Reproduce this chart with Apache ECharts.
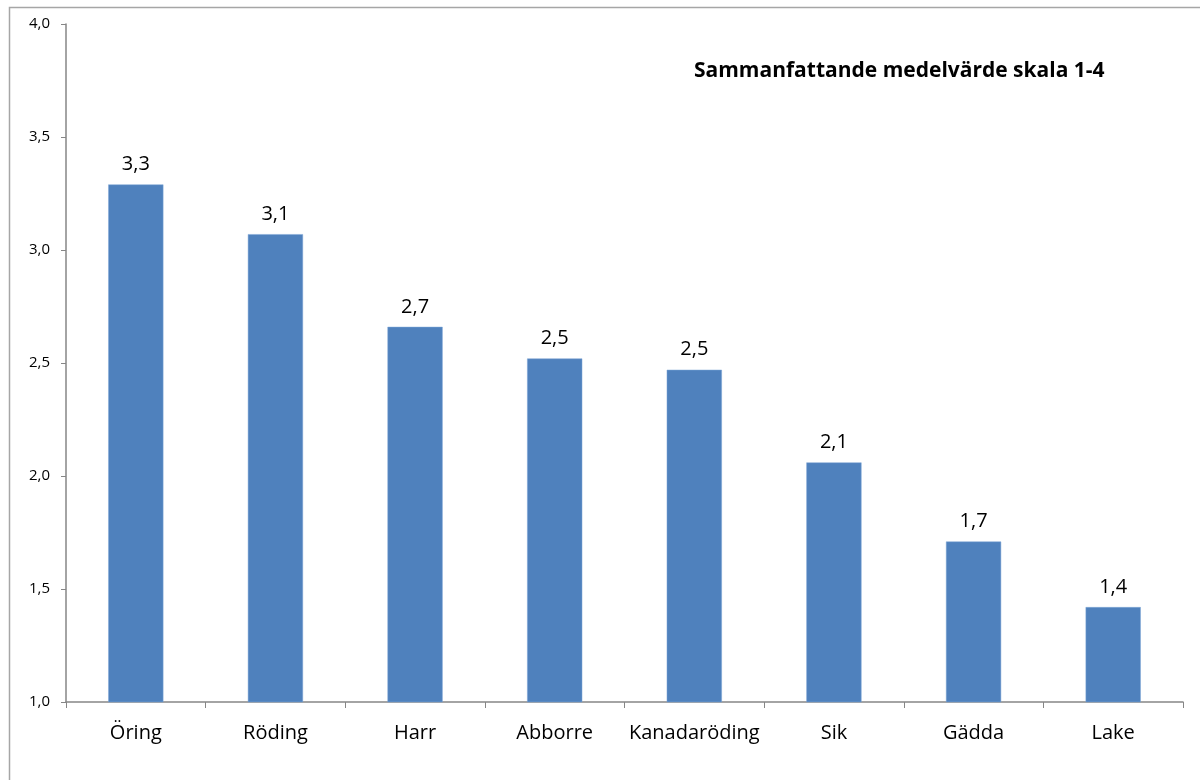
<!DOCTYPE html>
<html>
<head>
  <meta charset="UTF-8" />
  <title>Sammanfattande medelvärde</title>
  <script src="https://cdn.jsdelivr.net/npm/echarts@6/dist/echarts.min.js"></script>
  <style>
    html, body { margin: 0; height: 100%; background: #fff; }
    #chart { width: 1200px; height: 780px; }
  </style>
</head>
<body>
  <div id="chart"></div>
  <script>
    const arter = ['Öring', 'Röding', 'Harr', 'Abborre', 'Kanadaröding', 'Sik', 'Gädda', 'Lake'];
    const medelvarden = [3.29, 3.07, 2.66, 2.52, 2.47, 2.06, 1.71, 1.42];
    const titel = 'Sammanfattande medelvärde skala 1-4';

    const fmt = v => v.toFixed(1).replace('.', ',');
    const font = '"Open Sans", sans-serif';

    const chart = echarts.init(document.getElementById('chart'));
    chart.setOption({
      backgroundColor: '#fff',
      animation: false,
      textStyle: { fontFamily: font },
      graphic: [{
        // ram runt diagrammet (bara vänster- och överkant syns)
        type: 'rect',
        shape: { x: 9.5, y: 7.5, width: 1300, height: 900 },
        style: { fill: 'none', stroke: '#a6a6a6', lineWidth: 1.5 },
        silent: true
      }],
      title: {
        text: titel,
        left: 689,
        top: 56,
        textStyle: { fontFamily: font, fontWeight: 'bold', fontSize: 21, color: '#000' }
      },
      grid: { left: 66, right: 17, top: 24, bottom: 78 },
      xAxis: {
        type: 'category',
        data: arter,
        axisLine: { lineStyle: { color: '#868686', width: 1.5 } },
        axisTick: { show: true, inside: false, length: 6, lineStyle: { color: '#868686' } },
        axisLabel: { interval: 0, color: '#000', fontSize: 20, margin: 21, fontFamily: font }
      },
      yAxis: {
        type: 'value',
        min: 1,
        max: 4,
        interval: 0.5,
        axisLine: { show: true, lineStyle: { color: '#868686', width: 1.5 } },
        axisTick: { show: true, length: 5, lineStyle: { color: '#868686' } },
        splitLine: { show: false },
        axisLabel: { color: '#000', fontSize: 15, margin: 16, formatter: v => fmt(v), fontFamily: font }
      },
      series: [{
        type: 'bar',
        data: medelvarden,
        barWidth: '39.5%',
        itemStyle: { color: '#4f81bd', borderColor: '#7ea6d6', borderWidth: 0.5 },
        label: {
          show: true,
          position: 'top',
          distance: 10,
          color: '#000',
          fontSize: 20,
          fontFamily: font,
          formatter: p => fmt(p.value)
        }
      }]
    });
  </script>
</body>
</html>
